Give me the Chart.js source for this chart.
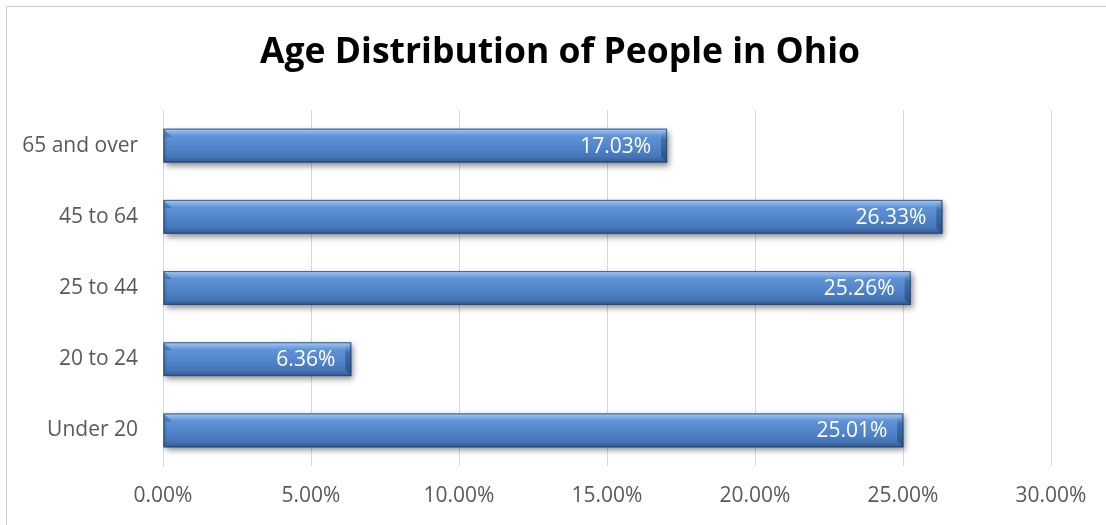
<!DOCTYPE html>
<html>
<head>
<meta charset="utf-8">
<title>Age Distribution of People in Ohio</title>
<script src="https://cdn.jsdelivr.net/npm/chart.js@4"></script>
<style>
  html, body { margin: 0; padding: 0; background: #fff; }
  #frame {
    position: absolute; left: 6px; top: 6px; width: 1110px; height: 530px;
    border: 1px solid #d0d0d0; box-sizing: border-box;
  }
  #wrap { position: absolute; left: 0; top: 0; width: 1106px; height: 525px; }
</style>
</head>
<body>
<div id="frame"></div>
<div id="wrap"><canvas id="myChart"></canvas></div>
<script>
    const ageGroups = ['65 and over', '45 to 64', '25 to 44', '20 to 24', 'Under 20'];
    const sharePct = [17.03, 26.33, 25.26, 6.36, 25.01];
    const axisTicks = [0, 5, 10, 15, 20, 25, 30];

    const FONT = '"Open Sans", Lato, sans-serif';

    // soft drop shadow under the bars
    const barShadow = {
        id: 'barShadow',
        beforeDatasetDraw(chart) {
            const c = chart.ctx;
            c.save();
            c.shadowColor = 'rgba(0,0,0,0.45)';
            c.shadowBlur = 6;
            c.shadowOffsetX = 2;
            c.shadowOffsetY = 3;
        },
        afterDatasetDraw(chart) {
            chart.ctx.restore();
        }
    };

    // bevelled shading over each bar plus the value label inside its end
    const barBevel = {
        id: 'barBevel',
        afterDatasetsDraw(chart) {
            const c = chart.ctx;
            const meta = chart.getDatasetMeta(0);
            meta.data.forEach((bar, i) => {
                const left = Math.min(bar.base, bar.x);
                const right = Math.max(bar.base, bar.x);
                const top = bar.y - bar.height / 2;
                const bottom = bar.y + bar.height / 2;
                const h = bar.height;
                const b = 6;

                c.save();
                const g = c.createLinearGradient(0, top, 0, bottom);
                g.addColorStop(0, '#aecdf3');
                g.addColorStop(0.1, '#86b0e6');
                g.addColorStop(0.22, '#5f93d6');
                g.addColorStop(0.6, '#4f82c6');
                g.addColorStop(0.85, '#4474b5');
                g.addColorStop(1, '#2f5789');
                c.fillStyle = g;
                c.fillRect(left, top, right - left, h);

                // left end bevel: darker wedge from the top corner
                c.beginPath();
                c.moveTo(left, top);
                c.lineTo(left + b + 2, top + b + 2);
                c.lineTo(left, top + b + 2);
                c.closePath();
                c.fillStyle = 'rgba(40,80,140,0.45)';
                c.fill();
                c.fillStyle = 'rgba(40,80,140,0.25)';
                c.fillRect(left, top + b + 2, 3, h - b - 4);

                // right end bevel
                c.beginPath();
                c.moveTo(right, top);
                c.lineTo(right - b, top + b);
                c.lineTo(right - b, bottom - b);
                c.lineTo(right, bottom);
                c.closePath();
                const gr = c.createLinearGradient(0, top, 0, bottom);
                gr.addColorStop(0, '#9fc0ea');
                gr.addColorStop(0.3, '#3f6fae');
                gr.addColorStop(1, '#2a4f80');
                c.fillStyle = gr;
                c.fill();

                c.strokeStyle = 'rgba(38,70,115,0.8)';
                c.lineWidth = 1;
                c.strokeRect(left + 0.5, top + 0.5, right - left - 1, h - 1);

                c.fillStyle = '#ffffff';
                c.font = '21px ' + FONT;
                c.textAlign = 'right';
                c.textBaseline = 'middle';
                c.fillText(sharePct[i].toFixed(2) + '%', right - 16, bar.y + 1);
                c.restore();
            });
        }
    };

    const ctx = document.getElementById('myChart').getContext('2d');
    const myChart = new Chart(ctx, {
        type: 'bar',
        data: {
            labels: ageGroups,
            datasets: [{
                label: 'Share of population',
                data: sharePct,
                backgroundColor: '#4f81bd',
                borderWidth: 0,
                barPercentage: 0.95,
                categoryPercentage: 0.5
            }]
        },
        options: {
            indexAxis: 'y',
            responsive: true,
            maintainAspectRatio: false,
            animation: false,
            layout: { padding: { left: 14, right: 0, top: 0, bottom: 0 } },
            plugins: {
                legend: { display: false },
                tooltip: { enabled: false },
                title: {
                    display: true,
                    text: 'Age Distribution of People in Ohio',
                    color: '#000',
                    font: { family: FONT, size: 35.5, weight: 'bold' },
                    padding: { top: 32, bottom: 35.4 }
                }
            },
            scales: {
                x: {
                    min: 0,
                    max: 30,
                    afterBuildTicks(scale) {
                        scale.ticks = axisTicks.map(v => ({ value: v }));
                    },
                    afterFit(scale) { scale.height = 59; },
                    grid: { color: '#d9d9d9', drawTicks: false },
                    border: { display: false },
                    ticks: {
                        color: '#595959',
                        font: { family: FONT, size: 21 },
                        padding: 17,
                        callback: v => v.toFixed(2) + '%'
                    }
                },
                y: {
                    afterFit(scale) { scale.width = 149; },
                    grid: { display: false, drawTicks: false },
                    border: { display: true, color: '#d9d9d9' },
                    ticks: {
                        color: '#595959',
                        font: { family: FONT, size: 21 },
                        padding: 25
                    }
                },
                // empty right-hand axis keeps room at the right edge
                yRight: {
                    position: 'right',
                    afterFit(scale) { scale.width = 55; },
                    grid: { display: false, drawTicks: false },
                    border: { display: false },
                    ticks: { display: false }
                }
            }
        },
        plugins: [barShadow, barBevel]
    });
</script>
</body>
</html>
